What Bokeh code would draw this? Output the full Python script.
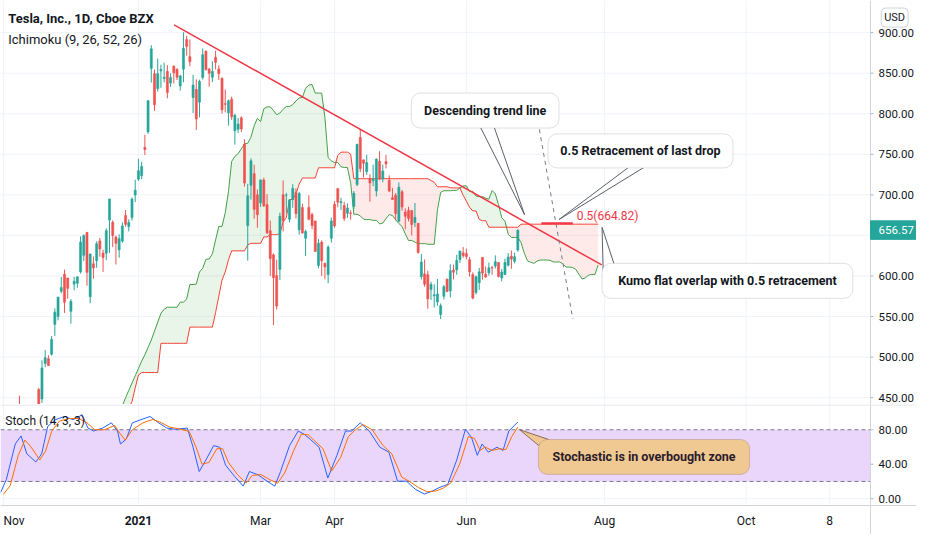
import numpy as np
from bokeh.plotting import figure
from bokeh.layouts import column
from bokeh.models import Range1d, Label, BoxAnnotation, ColumnDataSource
from bokeh.core.properties import value
from bokeh.embed import file_html
from bokeh.resources import INLINE

# ---------------- data (bar index 0 = 2 Nov 2020, daily bars) ----------------
open_ = [394.0, 409.73, 430.62, 428.3, 436.1, 439.5, 420.09, 416.45, 415.05, 410.85,
         408.93, 460.17, 448.35, 492.0, 497.99, 503.5, 540.4, 550.06, 581.16, 602.21,
         597.59, 556.44, 590.02, 591.01, 604.92, 625.51, 653.69, 574.37, 615.01, 619.0,
         643.28, 628.23, 628.19, 668.9, 666.24, 648.0, 632.2, 642.99, 674.51, 661.0,
         672.0, 699.99, 719.46, 723.66, 758.49, 777.63, 856.0, 849.4, 831.0, 852.76,
         843.39, 852.0, 837.8, 858.74, 855.0, 834.31, 855.0, 891.38, 870.35, 820.0,
         830.0, 814.29, 844.68, 877.02, 855.0, 845.0, 869.67, 855.12, 843.64, 812.44,
         801.26, 818.0, 779.09, 780.9, 795.0, 762.64, 662.13, 711.85, 726.15, 700.0,
         690.11, 718.28, 687.99, 655.8, 626.06, 600.55, 608.18, 700.3, 699.4, 670.0,
         694.09, 703.35, 656.87, 684.29, 646.6, 684.59, 675.77, 667.91, 613.0, 641.87,
         615.64, 601.75, 646.62, 688.37, 707.71, 690.3, 687.0, 677.38, 677.77, 685.7,
         712.7, 770.7, 743.1, 728.65, 719.6, 717.42, 704.77, 741.5, 719.8, 741.0,
         717.96, 696.41, 699.51, 667.59, 703.8, 678.94, 681.06, 680.76, 665.8, 664.9,
         599.24, 602.49, 601.54, 583.41, 575.55, 568.0, 552.55, 575.0, 596.11, 581.6,
         607.31, 607.56, 620.24, 628.5, 627.8, 620.13, 601.8, 579.71, 591.83, 623.01,
         602.17, 603.88, 610.23, 612.23, 616.69, 597.54, 601.89, 613.37, 624.48, 618.25,
         632.0]
high = [406.98, 427.77, 435.4, 440.0, 436.5, 452.5, 420.09, 418.7, 423.0, 412.53,
        412.45, 462.0, 496.0, 508.61, 502.5, 526.0, 559.99, 574.0, 598.78, 607.8,
        597.85, 571.54, 598.97, 599.04, 648.79, 651.28, 654.32, 627.75, 624.0, 642.75,
        646.9, 632.5, 658.82, 695.0, 668.5, 649.88, 651.5, 666.09, 681.4, 669.9,
        696.6, 718.72, 744.49, 740.84, 774.0, 816.99, 884.49, 854.43, 868.0, 860.47,
        863.0, 859.9, 850.0, 859.5, 855.72, 848.0, 900.4, 895.9, 891.5, 848.0,
        842.41, 842.0, 880.5, 878.08, 856.5, 864.77, 877.77, 859.8, 844.82, 829.88,
        817.33, 821.0, 799.84, 794.69, 796.79, 768.5, 713.61, 745.0, 737.21, 706.7,
        719.0, 721.11, 700.7, 668.45, 627.84, 620.13, 678.09, 717.85, 702.5, 694.88,
        713.18, 707.92, 703.73, 689.23, 657.23, 699.62, 677.8, 668.02, 645.5, 643.82,
        616.48, 637.66, 672.0, 692.42, 708.16, 696.55, 691.38, 689.55, 680.97, 704.8,
        763.0, 780.79, 743.69, 749.41, 725.4, 737.25, 744.84, 753.77, 737.36, 749.3,
        724.0, 708.5, 702.25, 715.47, 706.0, 683.45, 685.3, 681.02, 690.0, 665.05,
        627.1, 620.41, 606.46, 592.87, 589.73, 596.25, 566.21, 588.85, 596.68, 614.48,
        613.99, 626.17, 631.13, 635.59, 633.8, 623.36, 604.55, 600.61, 610.0, 623.09,
        611.79, 616.59, 612.56, 625.49, 616.79, 608.5, 621.47, 628.35, 631.39, 628.57,
        657.2]
low = [392.3, 406.69, 417.1, 424.0, 424.28, 421.0, 396.03, 410.58, 409.52, 401.66,
       404.09, 433.01, 443.5, 487.57, 489.06, 501.79, 526.2, 545.37, 578.45, 554.51,
       572.05, 541.21, 582.43, 585.5, 603.05, 618.5, 588.0, 566.34, 596.8, 610.2,
       623.8, 605.0, 619.5, 628.54, 635.52, 614.23, 622.57, 641.0, 660.8, 655.0,
       668.36, 691.12, 717.19, 719.2, 749.1, 775.2, 838.39, 803.62, 827.34, 832.0,
       838.75, 819.1, 833.0, 837.28, 841.42, 828.62, 838.82, 871.6, 858.66, 801.0,
       780.1, 795.56, 842.2, 853.06, 833.42, 838.97, 854.75, 841.75, 800.02, 801.73,
       785.33, 792.44, 762.01, 776.27, 777.37, 710.2, 619.0, 694.17, 670.58, 659.51,
       685.05, 685.0, 651.71, 600.0, 539.49, 558.79, 595.21, 655.06, 677.18, 666.14,
       684.04, 671.0, 651.01, 652.0, 624.62, 668.75, 657.51, 630.11, 609.5, 599.89,
       596.02, 591.01, 641.11, 659.42, 684.7, 681.37, 667.84, 671.65, 669.43, 682.09,
       710.66, 728.03, 721.31, 724.6, 691.8, 710.69, 698.0, 718.04, 715.46, 732.61,
       703.35, 693.6, 668.5, 666.14, 680.5, 657.7, 667.34, 650.0, 660.22, 627.61,
       595.6, 586.77, 559.65, 570.46, 561.2, 563.38, 546.98, 571.07, 580.0, 573.65,
       595.71, 601.5, 616.21, 622.38, 620.55, 599.14, 571.22, 577.2, 582.88, 595.5,
       597.63, 600.5, 601.52, 609.18, 598.23, 593.5, 601.34, 611.8, 608.88, 615.5,
       630.04]
close = [400.51, 423.9, 420.98, 438.09, 429.95, 421.26, 410.36, 417.13, 411.76, 408.5,
         408.09, 441.61, 486.64, 499.27, 489.61, 521.85, 555.38, 574.0, 585.76, 567.6,
         584.76, 568.82, 593.38, 599.04, 641.76, 649.88, 604.48, 627.07, 609.99, 639.83,
         633.25, 622.77, 655.9, 695.0, 649.86, 640.34, 645.98, 661.77, 663.69, 665.99,
         694.78, 705.67, 729.77, 735.11, 755.98, 816.04, 880.02, 811.19, 849.44, 854.41,
         845.0, 826.16, 844.55, 850.45, 844.99, 846.64, 880.8, 883.09, 864.16, 835.43,
         793.53, 839.81, 872.79, 854.69, 849.99, 852.23, 863.42, 849.46, 804.82, 811.66,
         816.12, 796.22, 798.15, 787.38, 781.3, 714.5, 698.84, 742.02, 682.22, 675.5,
         718.43, 686.44, 653.2, 621.44, 597.95, 563.0, 673.58, 668.06, 699.6, 693.73,
         707.94, 676.88, 701.81, 653.16, 654.87, 670.0, 662.16, 630.27, 640.39, 618.71,
         611.29, 635.62, 667.93, 661.75, 691.05, 691.62, 670.97, 683.8, 677.02, 701.98,
         762.32, 732.23, 738.85, 739.78, 714.63, 718.99, 744.12, 719.69, 729.4, 738.2,
         704.74, 694.4, 677.0, 709.44, 684.9, 673.6, 670.94, 663.54, 672.37, 629.04,
         617.2, 589.89, 571.69, 589.74, 576.83, 577.87, 563.46, 586.78, 580.88, 606.44,
         604.69, 619.13, 630.85, 625.22, 623.9, 605.12, 572.84, 599.05, 605.13, 603.59,
         598.78, 610.12, 609.89, 617.69, 599.36, 604.87, 616.6, 623.31, 620.83, 623.71,
         656.57]

# Ichimoku cloud (leading spans, displayed bar index 36..185)
cloud_x = list(range(36, 186))
span_a = [430, 440, 450, 459, 468, 477, 486, 495, 503, 512,
          521, 532, 543, 554, 559, 561.5, 561.5, 561.5, 561.5, 567.8,
          567.8, 571.4, 589.5, 589.5, 590.1, 605, 609.6, 620.6, 621, 627.3,
          644.5, 661.1, 661.1, 677.9, 704, 741.3, 747.6, 750.9, 756.6, 763.1,
          763.6, 771.1, 785.2, 794.4, 790.3, 806.2, 808.5, 808.5, 804, 798.8,
          800.9, 805.5, 809, 809, 811.2, 815.8, 819.5, 820, 831.4, 835.4,
          836, 825.5, 825.5, 825.5, 795.2, 745.8, 742, 739.9, 739.9, 734.6,
          733.8, 733.8, 715, 676.1, 676.1, 674.2, 670.1, 669.5, 669.5, 668.6,
          668.6, 664.2, 665.2, 670.6, 675.7, 674.6, 669.3, 664.7, 661, 651.9,
          643.8, 643.8, 641.8, 639.9, 639.9, 639.9, 639.1, 639.1, 639.1, 681.5,
          703, 705.1, 705.1, 705.1, 705.5, 705.5, 708.7, 711.1, 711.1, 704.3,
          704.3, 698.5, 697.9, 697.9, 695.8, 694.7, 705.3, 701.2, 687.9, 671.9,
          667.5, 651.5, 647.5, 647.5, 647.5, 641.2, 628.2, 618.7, 617, 615.6,
          618.5, 619.7, 619.7, 619.7, 619.4, 617.3, 617.3, 617.3, 615, 611,
          611, 610.5, 608.4, 602.2, 596.3, 597.7, 601.1, 601.9, 601.9, 613.7]
span_b = [410, 420, 428, 437, 445, 462, 478, 481, 481, 481,
          481, 481, 481, 517, 517, 517, 517, 517, 517, 517,
          517, 517, 537, 537, 537, 537, 537, 537, 537, 537,
          555, 575, 595, 605, 620, 631, 631, 631, 631, 631,
          638.4, 640.3, 640.3, 640.3, 640.3, 648.2, 648.2, 651, 651, 651,
          652.2, 666.7, 672, 694, 694.7, 701.1, 713.3, 720.8, 720.8, 720.8,
          720.8, 720.8, 733.4, 733.4, 733.4, 733.4, 733.4, 733.4, 748.6, 752.7,
          752.7, 752.7, 750.2, 719.95, 719.95, 719.95, 719.95, 719.95, 719.95, 719.95,
          719.95, 719.95, 719.95, 719.95, 719.95, 719.95, 719.95, 719.95, 719.95, 719.95,
          719.95, 719.95, 719.95, 719.95, 719.95, 719.95, 719.95, 717.7, 715.5, 710,
          710, 710, 710, 708.8, 708.6, 708.6, 708.6, 699.6, 692.2, 684.7,
          680.2, 680.2, 669.7, 668.1, 668.1, 660.1, 660.1, 660.1, 660.1, 660.1,
          660.1, 660.1, 660.1, 660.1, 660.1, 663.9, 663.9, 663.9, 663.9, 663.9,
          663.9, 663.9, 663.9, 663.9, 663.9, 663.9, 663.9, 663.9, 663.9, 663.9,
          663.9, 663.9, 663.9, 663.9, 663.9, 663.9, 663.9, 663.9, 663.9, 663.9]

# Stochastic (14, 3, 3)
stoch_k_x = [-0.9, 0.9, 3.7, 5.5, 7.3, 10.1, 11.9, 13.8, 16.2, 19.0, 21.7, 24.5, 26.3, 28.1,
             30.9, 33.6, 35.5, 36.4, 38.2, 40.1, 42.8, 45.6, 48.3, 50.8, 53.5, 57.2, 59.0,
             60.9, 62.7, 65.4, 67.3, 69.1, 71.9, 74.6, 76.5, 79.2, 82.0, 84.4, 86.2, 89.0,
             91.7, 93.6, 95.4, 98.2, 100.9, 103.7, 106.4, 108.3, 111.0, 113.8, 117.1, 119.9,
             122.6, 125.4, 128.1, 130.9, 133.6, 135.5, 138.2, 141.0, 143.7, 145.6, 147.4,
             148.9, 150.8, 153.5, 155.4, 157.2, 160.0]
stoch_k = [7, 22, 63.5, 72.8, 52, 42.6, 52, 84, 91.7, 95.4, 91.7, 97.3, 82, 78.5,
           82, 88, 78.5, 63.5, 69, 88, 91.7, 95.4, 88, 82, 80.5, 82, 59.7,
           31.5, 43, 61.6, 59.7, 39, 25.9, 14.6, 31.5, 27.7, 20.3, 14.6, 31.5, 61.6,
           78.5, 74.7, 69, 59.7, 24, 50, 78.5, 78.5, 88, 78.5, 59.7, 54,
           20.3, 20.3, 11, 5.4, 9.1, 12.8, 16.6, 44.8, 80.5, 71, 50.3,
           63.5, 54, 59.7, 56, 78.5, 89]
stoch_d_x = [0.0, 2.1, 4.6, 6.7, 8.6, 11.3, 13.1, 15.0, 17.4, 20.5, 23.5, 26.0, 28.4, 31.5,
             34.6, 36.4, 37.9, 40.1, 43.4, 46.5, 49.2, 51.7, 54.7, 57.8, 59.9, 61.8, 63.9,
             66.4, 68.2, 70.0, 72.8, 75.5, 77.4, 80.1, 82.9, 85.3, 87.5, 90.2, 92.7, 94.8,
             96.6, 99.4, 102.1, 104.9, 107.3, 109.5, 111.9, 114.7, 118.0, 120.8, 123.9, 126.3,
             129.1, 131.8, 134.6, 136.7, 139.1, 141.9, 144.6, 146.5, 148.3, 149.8, 152.0,
             154.4, 156.3, 158.1, 160.0]
stoch_d = [5, 15, 50, 68, 60, 45, 55, 78, 90, 93, 93, 88, 80, 80,
           85, 75, 68, 80, 88, 92, 88, 83, 81, 78, 60, 40, 42,
           58, 58, 42, 28, 18, 27, 28, 22, 18, 30, 55, 75, 74,
           68, 58, 32, 48, 72, 80, 86, 80, 62, 52, 25, 20,
           13, 8, 9, 12, 18, 40, 72, 70, 56, 60, 56,
           58, 57, 72, 83]

# axes
time_ticks = [0, 42, 80, 103, 144, 187, 231, 257]
time_labels = ["Nov", "2021", "Mar", "Apr", "Jun", "Aug", "Oct", "8"]
time_styles = ["normal", "bold", "normal", "normal", "normal", "normal", "normal", "normal"]
time_aligns = ["left", "center", "center", "center", "center", "center", "center", "center"]
price_ticks = [450, 500, 550, 600, 650, 700, 750, 800, 850, 900]
stoch_ticks = [0, 40, 80]
last_price = 656.57

# drawings
trend_x = [53.1, 186.1]
trend_y = [909.6, 613.6]
drop_x = [166.7, 177.1]
drop_y = [780.79, 546.98]
fib_x = [167.3, 177.1]
fib_level = 664.82

# ---------------- styling / geometry ----------------
FONT = "Roboto"
TXT = "#131722"
GRID = "#f0f3fa"
BORDER = "#d1d4dc"
UP = "#26a69a"
DOWN = "#ef5350"
GREEN = "#43a047"
RED = "#f44336"
DRAW_RED = "#f23645"
GRAY = "#787b86"

W = 916
MAIN_H, STO_H = 404, 130
X0, XAX, X1 = -0.9, 269.7, 284.0           # frame left, price-scale edge, page right
PX_PER_BAR = W / (X1 - X0)
LAB_X = XAX + 8 / PX_PER_BAR
TICK_X = XAX + 3 / PX_PER_BAR
Y0, Y1 = 441.6, 939.6                        # main pane price range
SPX = 101 / (109.3 + 7.9)                    # stoch pane px per unit
S_TOP, S_AX = 109.3, -7.9
S_BOT = S_TOP - STO_H / SPX

xr = Range1d(X0, X1)

def base_fig(h, yr):
    f = figure(width=W, height=h, x_range=xr, y_range=yr, output_backend="svg",
               toolbar_location=None, x_axis_location=None, y_axis_location=None,
               min_border_left=0, min_border_right=0, min_border_top=0, min_border_bottom=0)
    f.outline_line_color = None
    f.background_fill_color = "white"
    f.border_fill_color = "white"
    f.grid.visible = False
    return f

# ---------------- main pane ----------------
p = base_fig(MAIN_H, Range1d(Y0, Y1))

# grid
p.segment(x0=X0, x1=XAX, y0=price_ticks, y1=price_ticks, line_color=GRID, line_width=1)
p.segment(x0=time_ticks, x1=time_ticks, y0=Y0, y1=Y1, line_color=GRID, line_width=1)

# cloud
cx = np.array(cloud_x, dtype=float)
a = np.array(span_a, dtype=float)
b = np.array(span_b, dtype=float)
top = np.maximum(a, b)
p.varea(x=cx, y1=b, y2=top, fill_color="#4caf50", fill_alpha=0.13)
p.varea(x=cx, y1=a, y2=top, fill_color="#f44336", fill_alpha=0.11)
p.line(cx, a, line_color=GREEN, line_width=1)
p.line(cx, b, line_color=RED, line_width=1)

# candles
o = np.array(open_); h = np.array(high); l = np.array(low); c = np.array(close)
idx = np.arange(len(o))
cols = np.where(c >= o, UP, DOWN)
src = ColumnDataSource(dict(x=idx, h=h, l=l, top=np.maximum(o, c), bot=np.minimum(o, c), col=cols))
p.segment(x0="x", y0="h", x1="x", y1="l", source=src, line_color="col", line_width=1)
p.vbar(x="x", width=0.64, top="top", bottom="bot", source=src,
       fill_color="col", line_color="col", line_width=0.6)

# trend line, drop line, fib 0.5
p.line(trend_x, trend_y, line_color=DRAW_RED, line_width=1.5)
p.line(drop_x, drop_y, line_color=GRAY, line_width=1, line_dash="4 4")
p.line(fib_x, [fib_level, fib_level], line_color=DRAW_RED, line_width=2.2)
p.add_layout(Label(x=178.3, y=674.0, text="0.5(664.82)", text_color=DRAW_RED,
                   text_font=FONT, text_font_size="12px", text_baseline="middle",
                   text_align="left"))

# callout tails
p.patch([162.1, 148.3, 152.6], [675.6, 784.0, 784.0], fill_color="white",
        line_color="#5d606b", line_width=1)
p.patch([172.8, 194.8, 199.7], [669.6, 735.0, 735.0], fill_color="white",
        line_color="#5d606b", line_width=1)
p.patch([186.2, 186.6, 190.0], [660.0, 598.0, 614.0], fill_color="white",
        line_color="#5d606b", line_width=1)

def callout(fig, left, right, bottom, top_, text, fill="white", line="#9598a1", tcol=TXT):
    fig.add_layout(BoxAnnotation(left=left, right=right, bottom=bottom, top=top_,
                                 fill_color=fill, fill_alpha=1.0, line_color=line,
                                 line_width=1, border_radius=9))
    fig.add_layout(Label(x=(left + right) / 2, y=(bottom + top_) / 2, text=text,
                         text_align="center", text_baseline="middle", text_font=FONT,
                         text_font_style="bold", text_font_size="12.5px", text_color=tcol))

callout(p, 126.9, 172.8, 782.4, 825.6, "Descending trend line")
callout(p, 169.4, 226.9, 733.2, 775.2, "0.5 Retracement of last drop")
callout(p, 186.2, 264.2, 572.4, 615.6, "Kumo flat overlap with 0.5 retracement")

# legend titles
p.add_layout(Label(x=1.5, y=918.0, text="Tesla, Inc., 1D, Cboe BZX", text_font=FONT,
                   text_font_size="13px", text_color=TXT, text_baseline="middle",
                   text_font_style="bold"))
p.add_layout(Label(x=1.5, y=891.6, text="Ichimoku (9, 26, 52, 26)", text_font=FONT,
                   text_font_size="13px", text_color=TXT, text_baseline="middle"))

# price scale (right)
p.segment(x0=XAX, x1=XAX, y0=Y0, y1=Y1, line_color=BORDER, line_width=1)
p.segment(x0=XAX, x1=TICK_X, y0=price_ticks, y1=price_ticks, line_color="#b2b5be")
p.text(x=[LAB_X] * len(price_ticks), y=price_ticks,
       text=[f"{v:.2f}" for v in price_ticks], text_font=value(FONT),
       text_font_size=value("11.5px"), text_color=TXT, text_baseline="middle",
       text_align="left")
p.add_layout(Label(x=277.2, y=918.6, text="USD", text_font=FONT, text_font_size="11px",
                   text_color=TXT, text_align="center", text_baseline="middle",
                   border_line_color=BORDER, border_radius=4, padding=3,
                   background_fill_color="white"))
p.quad(left=[XAX], right=[X1], bottom=[last_price - 11.4], top=[last_price + 11.4],
       fill_color=UP, line_color=UP)
p.text(x=[LAB_X], y=[last_price], text=[f"{last_price:.2f}"], text_font=value(FONT),
       text_font_size=value("11.5px"), text_color="white", text_baseline="middle",
       text_align="left")

# ---------------- stochastic pane ----------------
s = base_fig(STO_H, Range1d(S_BOT, S_TOP))

s.segment(x0=X0, x1=XAX, y0=[0, 40], y1=[0, 40], line_color=GRID, line_width=1)
s.segment(x0=time_ticks, x1=time_ticks, y0=S_AX, y1=S_TOP, line_color=GRID, line_width=1)
s.quad(left=[X0], right=[XAX], bottom=[20], top=[80], fill_color="#ead6fb",
       line_color=None)
s.segment(x0=X0, x1=XAX, y0=[80, 20], y1=[80, 20], line_color=GRAY, line_width=1,
          line_dash="4 3")
s.line(stoch_k_x, stoch_k, line_color="#2962ff", line_width=1)
s.line(stoch_d_x, stoch_d, line_color="#ff6d00", line_width=1)

s.patch([160.6, 166.4, 169.6], [80.0, 62.0, 68.7], fill_color="#f0c891",
        line_color="#8b6b61", line_width=1)
callout(s, 166.4, 232.1, 28.2, 68.7, "Stochastic is in overbought zone",
        fill="#f0c891", line="#8b6b61", tcol="#2b1b2b")

s.add_layout(Label(x=0.6, y=90.1, text="Stoch (14, 3, 3)", text_font=FONT,
                   text_font_size="12px", text_color=TXT, text_baseline="middle"))

# pane separator, price scale, time axis
s.segment(x0=[X0], x1=[X1], y0=[S_TOP - 0.6], y1=[S_TOP - 0.6], line_color="#e0e3eb", line_width=1)
s.segment(x0=[XAX], x1=[XAX], y0=[S_BOT], y1=[S_TOP], line_color=BORDER, line_width=1)
s.segment(x0=[X0], x1=[X1], y0=[S_AX], y1=[S_AX], line_color=BORDER, line_width=1)
s.segment(x0=XAX, x1=TICK_X, y0=stoch_ticks, y1=stoch_ticks, line_color="#b2b5be")
s.text(x=[LAB_X] * len(stoch_ticks), y=stoch_ticks,
       text=[f"{v:.2f}" for v in stoch_ticks], text_font=value(FONT),
       text_font_size=value("11.5px"), text_color=TXT, text_baseline="middle",
       text_align="left")
s.text(x=time_ticks, y=[S_AX - 15 / SPX] * len(time_ticks), text=time_labels,
       text_font=value(FONT), text_font_size=value("12px"), text_font_style=time_styles,
       text_color=TXT, text_baseline="middle", text_align=time_aligns)

layout = column(p, s, spacing=0)
open("out.html", "w").write(file_html(layout, INLINE))
